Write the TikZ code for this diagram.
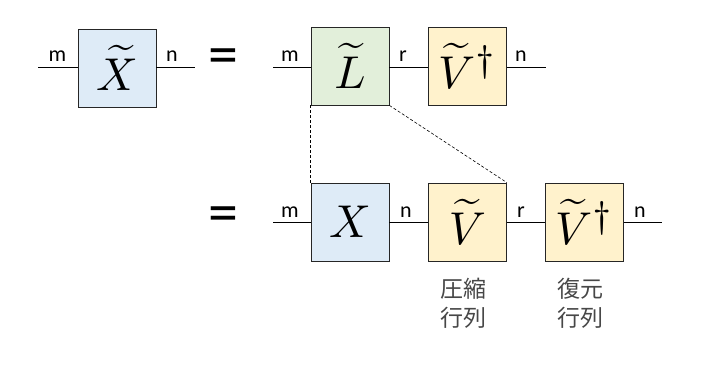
\documentclass[tikz,border=0pt]{standalone}
\usepackage{graphicx}
\usepackage{fontspec}
\setsansfont{Carlito}
\newfontfamily\cjk{Noto Sans CJK JP}
\newcommand{\boxmath}[1]{\scalebox{4.6}{$#1$}}
\newcommand{\dg}{^{\scalebox{1.15}{$\scriptstyle\dagger$}}}
\begin{document}
\begin{tikzpicture}[x=1pt,y=-1pt,
  tbox/.style={draw=black!85,line width=0.8pt,minimum width=78pt,minimum height=78pt,inner sep=0pt},
  bluebox/.style={tbox,fill={rgb,255:red,222;green,235;blue,247}},
  greenbox/.style={tbox,fill={rgb,255:red,226;green,239;blue,218}},
  yellowbox/.style={tbox,fill={rgb,255:red,255;green,242;blue,204}},
  leg/.style={line width=0.8pt,black},
  lbl/.style={font=\sffamily\fontsize{22}{22}\selectfont,inner sep=0pt,anchor=base},
  eq/.style={font=\sffamily\fontsize{60}{60}\selectfont,inner sep=0pt},
  jp/.style={font=\cjk\fontsize{23}{29}\selectfont,text=black!72,align=center,inner sep=0pt}]
\useasboundingbox (0,0) rectangle (711,373);
% top-left
\node[bluebox] (xt) at (117,68) {\boxmath{\widetilde{X}}};
\coordinate (xtl) at (38,67);
\coordinate (xtr) at (195,67);
\draw[leg] (xtl) -- (xt.west |- xtl);
\draw[leg] (xt.east |- xtr) -- (xtr);
\node[lbl] (m1) at (57.5,61.5) {m};
\node[lbl] (n1) at (172,61.5) {n};
\node[eq] (eq1) at (223,62) {=};
% top right
\node[greenbox] (L) at (350,66) {\boxmath{\widetilde{L}}};
\node[yellowbox] (Vd1) at (467.5,66) {\boxmath{\widetilde{V}\dg}};
\coordinate (Ll) at (273,67);
\coordinate (Vr1) at (546,67);
\draw[leg] (Ll) -- (L.west |- Ll);
\draw[leg] (L.east |- Ll) -- (Vd1.west |- Ll);
\draw[leg] (Vd1.east |- Vr1) -- (Vr1);
\node[lbl] (m2) at (290,61.5) {m};
\node[lbl] (r1) at (403,61.5) {r};
\node[lbl] (n2) at (521,61.5) {n};
% bottom
\node[eq] (eq2) at (223,220) {=};
\node[bluebox] (X) at (350,222) {\boxmath{X}};
\node[yellowbox] (V) at (467.5,222) {\boxmath{\widetilde{V}}};
\node[yellowbox] (Vd2) at (584.5,222) {\boxmath{\widetilde{V}\dg}};
\coordinate (Xl) at (273,222.5);
\coordinate (Vr2) at (662,222.5);
\draw[leg] (Xl) -- (X.west |- Xl);
\draw[leg] (X.east |- Xl) -- (V.west |- Xl);
\draw[leg] (V.east |- Xl) -- (Vd2.west |- Xl);
\draw[leg] (Vd2.east |- Vr2) -- (Vr2);
\node[lbl] (m3) at (290,217) {m};
\node[lbl] (n3) at (406,217) {n};
\node[lbl] (r2) at (521,217) {r};
\node[lbl] (n4) at (640,217) {n};
% dashed
\draw[line width=0.6pt,dash pattern=on 3pt off 2pt] (L.south west) -- (X.north west);
\draw[line width=0.6pt,dash pattern=on 3pt off 2pt] (L.south east) -- (V.north east);
% japanese
\node[jp] (c1) at (463.5,303) {圧縮\\行列};
\node[jp] (c2) at (580,303) {復元\\行列};
\end{tikzpicture}
\end{document}
